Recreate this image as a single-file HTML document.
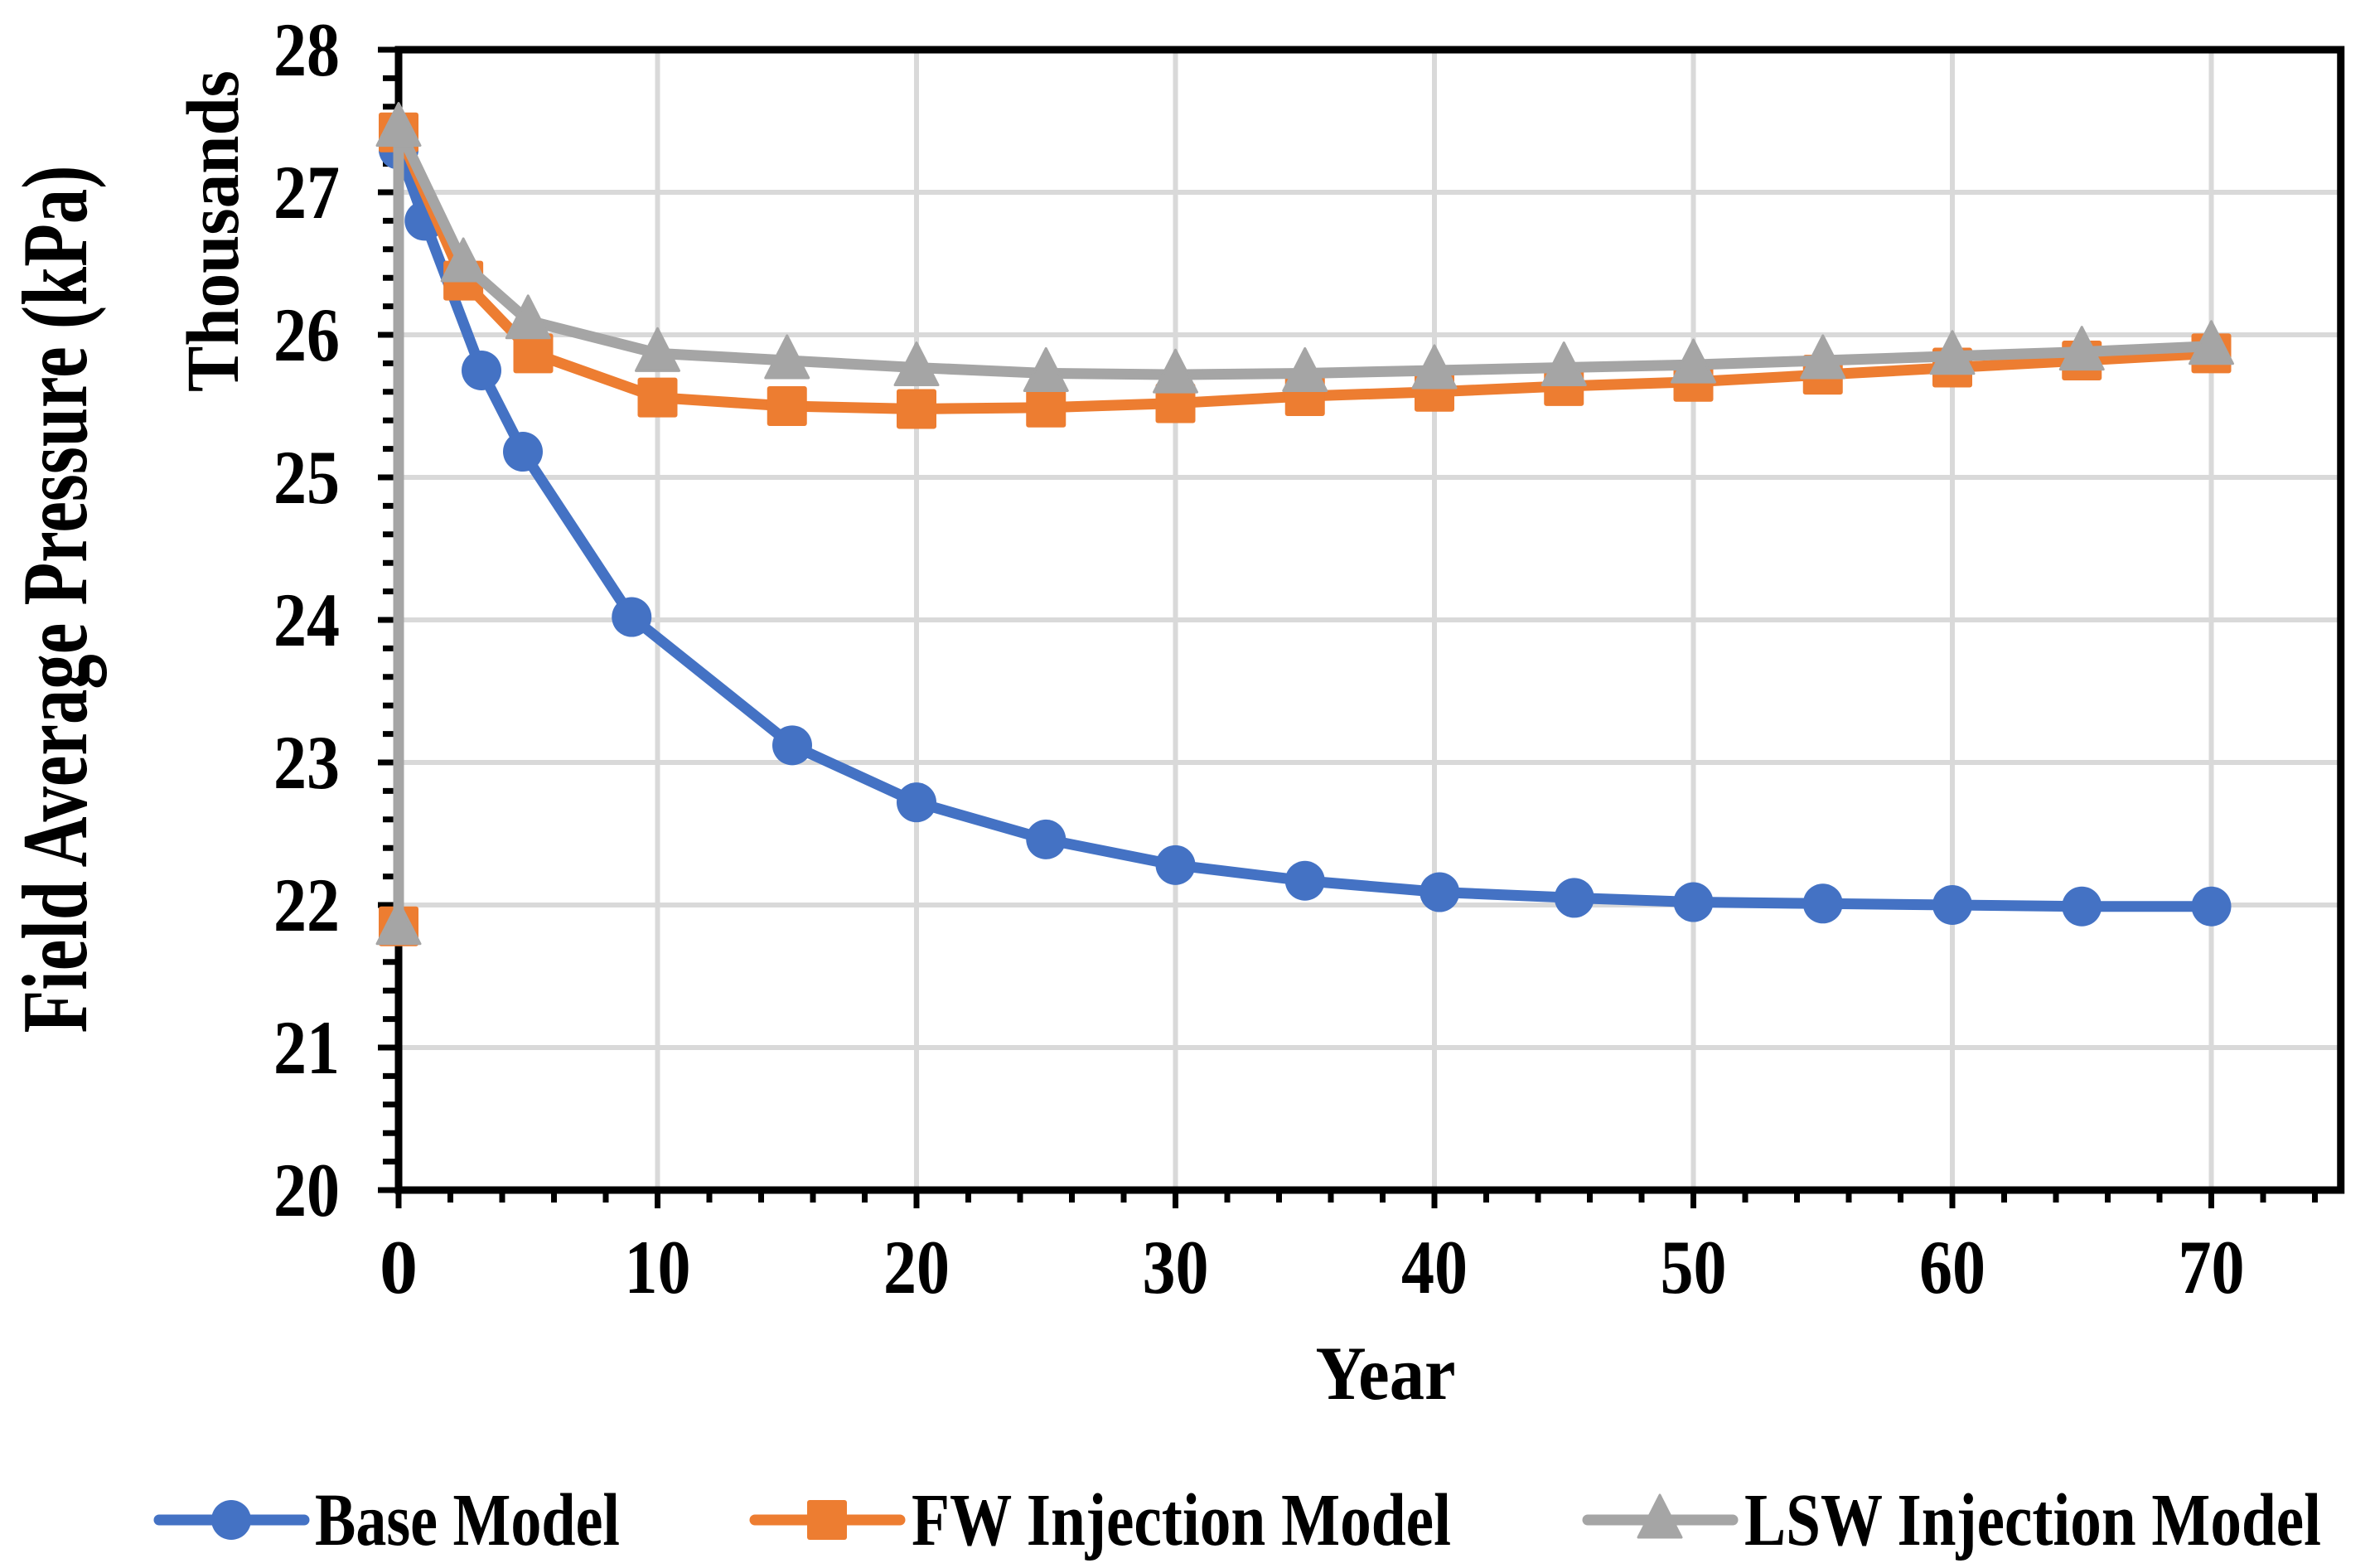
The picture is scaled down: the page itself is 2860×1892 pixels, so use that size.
<!DOCTYPE html>
<html><head><meta charset="utf-8"><style>
html,body{margin:0;padding:0;background:#fff;}
svg{display:block;font-family:"Liberation Serif",serif;font-weight:bold;}
</style></head><body>
<svg id="chart" width="2860" height="1892" viewBox="0 0 2860 1892" xmlns="http://www.w3.org/2000/svg">
<g id="grid"></g>
<g id="axes"></g>
<g id="series"></g>
<text x="0" y="0" transform="translate(104,723) rotate(-90)" text-anchor="middle" font-size="112" textLength="1047" lengthAdjust="spacingAndGlyphs">Field Average Pressure (kPa)</text>
<text x="0" y="0" transform="translate(287,279) rotate(-90)" text-anchor="middle" font-size="90" textLength="388" lengthAdjust="spacingAndGlyphs">Thousands</text>
<text x="1672" y="1688" text-anchor="middle" font-size="92" textLength="169" lengthAdjust="spacingAndGlyphs">Year</text>
<g id="legend"></g>
</svg>
<script>
const years0 = [0,0,1,3.2,4.8,9,15.2,20,25,30,35,40.2,45.4,50,55,60,65,70];
const baseVals = [27.3,27.3,26.8,25.75,25.18,24.02,23.12,22.72,22.46,22.28,22.17,22.09,22.05,22.02,22.01,22.0,21.99,21.99];
const yearsInj = [0,0,2.5,5.2,10,15,20,25,30,35,40,45,50,55,60,65,70];
const fwVals = [21.85,27.42,26.38,25.87,25.56,25.5,25.48,25.49,25.52,25.57,25.6,25.64,25.67,25.72,25.77,25.82,25.87];
const yearsLsw = [0,0,2.5,5,10,15,20,25,30,35,40,45,50,55,60,65,70];
const lswVals = [21.85,27.45,26.5,26.1,25.87,25.82,25.77,25.73,25.72,25.73,25.75,25.77,25.79,25.82,25.85,25.88,25.92];
const xTicks = [0,10,20,30,40,50,60,70];
const yTicks = [20,21,22,23,24,25,26,27,28];

const NS="http://www.w3.org/2000/svg";
const X0=481, XS=31.25, Y0=60, YS=172, YMAX=28, XMAXV=75;
const xs=v=>X0+v*XS, ys=v=>Y0+(YMAX-v)*YS;
function mk(tag,attrs,parent){const e=document.createElementNS(NS,tag);for(const k in attrs)e.setAttribute(k,attrs[k]);parent.appendChild(e);return e;}
const grid=document.getElementById('grid'), axes=document.getElementById('axes'), series=document.getElementById('series'), legend=document.getElementById('legend');
const xR=xs(XMAXV), yB=ys(20), yT=ys(28);
xTicks.forEach(t=>{ if(t===0)return;
  const l=mk('line',{x1:xs(t),x2:xs(t),y1:yT,y2:yB,stroke:'#d9d9d9','stroke-width':6},grid);
  
  
});
yTicks.forEach(t=>{ if(t===20||t===28)return;
  const l=mk('line',{x1:X0,x2:xR,y1:ys(t),y2:ys(t),stroke:'#d9d9d9','stroke-width':6},grid);
  
  
});
for(let v=20;v<=28.001;v+=0.2){const maj=Math.abs(v-Math.round(v))<0.01;
  const l=mk('line',{x1:maj?456:462,x2:X0,y1:ys(v),y2:ys(v),stroke:'#000','stroke-width':7},axes);
  
  }
for(let v=0;v<=74.001;v+=2){const maj=v%10===0;
  const l=mk('line',{x1:xs(v),x2:xs(v),y1:yB,y2:maj?1458:1451,stroke:'#000','stroke-width':7},axes);
  
  }
const frame=mk('rect',{x:X0,y:yT,width:xR-X0,height:yB-yT,fill:'none',stroke:'#000','stroke-width':9},axes);


yTicks.forEach(t=>{const e=mk('text',{x:410,y:ys(t)+31,'text-anchor':'end','font-size':92,textLength:80,lengthAdjust:'spacingAndGlyphs'},axes);e.textContent=t;
  
  });
xTicks.forEach(t=>{const a={x:xs(t),y:1560,'text-anchor':'middle','font-size':92};
  if(String(t).length>1){a.textLength=80;a.lengthAdjust='spacingAndGlyphs';}
  const e=mk('text',a,axes);e.textContent=t;
  
  });

function marker(type,x,y,color,g){let e;
  if(type==='circle')e=mk('circle',{cx:x,cy:y,r:24,fill:color},g);
  else if(type==='square')e=mk('rect',{x:x-24,y:y-24,width:48,height:48,rx:3,fill:color},g);
  else e=mk('polygon',{points:`${x},${y-30} ${x+26},${y+21} ${x-26},${y+21}`,fill:color,'stroke':color,'stroke-width':3,'stroke-linejoin':'round'},g);
  return e;}
function drawSeries(xsArr,vals,color,type,name){
  const g=mk('g',{},series);
  
  
  const pts=xsArr.map((t,i)=>xs(t)+','+ys(vals[i])).join(' ');
  const pl=mk('polyline',{points:pts,fill:'none',stroke:color,'stroke-width':13,'stroke-linejoin':'round'},g);
  
  
  xsArr.forEach((t,i)=>{const m=marker(type,xs(t),ys(vals[i]),color,g);
    
    });
}
drawSeries(years0,baseVals,'#4472c4','circle','base-model-series');
drawSeries(yearsInj,fwVals,'#ed7d31','square','fw-injection-series');
drawSeries(yearsLsw,lswVals,'#a5a5a5','triangle','lsw-injection-series');

const legItems=[['Base Model','#4472c4','circle',192,380,368],['FW Injection Model','#ed7d31','square',911,1100,651],['LSW Injection Model','#a5a5a5','triangle',1916,2105,696]];
legItems.forEach(it=>{const g=mk('g',{},legend);
  
  
  const ly=1834;
  mk('line',{x1:it[3],x2:it[3]+175,y1:ly,y2:ly,stroke:it[1],'stroke-width':13,'stroke-linecap':'round'},g);
  marker(it[2],it[3]+87,ly,it[1],g);
  const t=mk('text',{x:it[4],y:ly+30,'font-size':90,textLength:it[5],lengthAdjust:'spacingAndGlyphs'},g);t.textContent=it[0];
  
  
});
</script>
</body></html>
